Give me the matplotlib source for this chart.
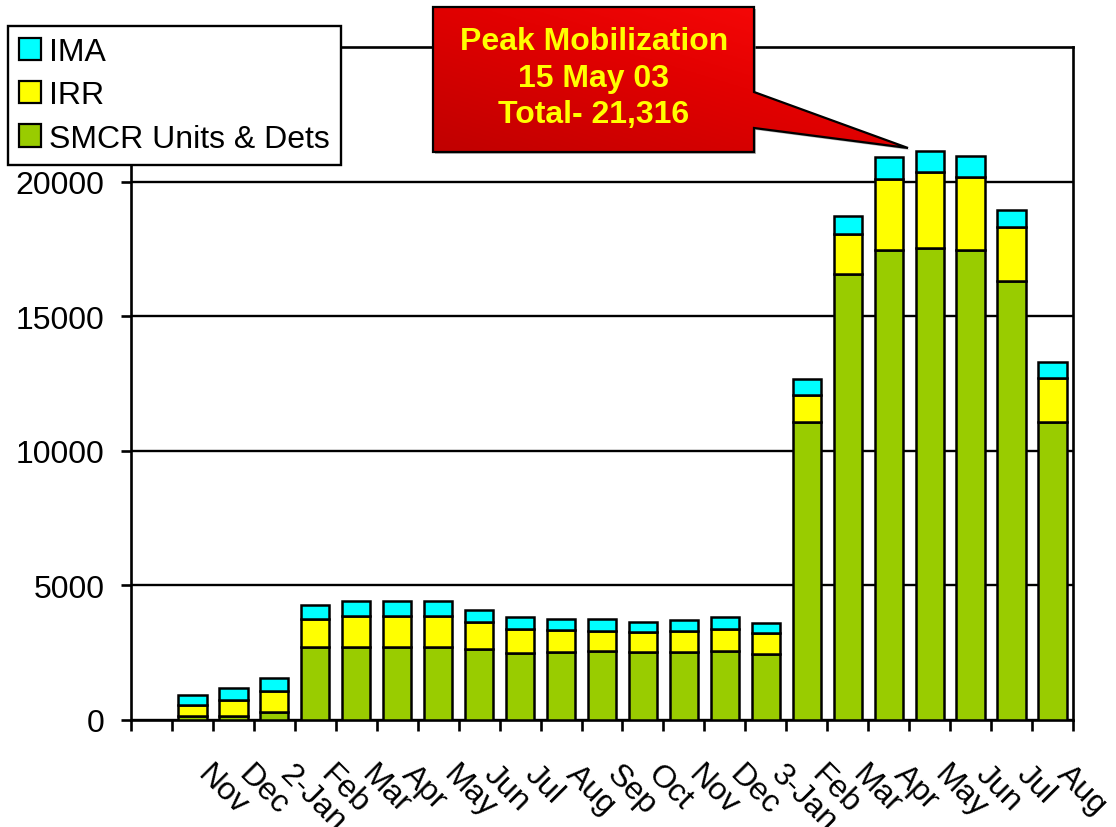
"""
Mobilization by month — stacked bars (SMCR, IRR, IMA) with peak callout.
Output: out.png
"""

import numpy as np
import matplotlib
matplotlib.use('Agg')
import matplotlib.pyplot as plt
from matplotlib.patches import Patch, Polygon
from matplotlib.colors import LinearSegmentedColormap
from matplotlib.transforms import offset_copy

# ── DATA ───────────────────────────────────────────────────────────────────────
months = ['Nov', 'Dec', '2-Jan', 'Feb', 'Mar', 'Apr', 'May', 'Jun', 'Jul', 'Aug',
          'Sep', 'Oct', 'Nov', 'Dec', '3-Jan', 'Feb', 'Mar', 'Apr', 'May', 'Jun',
          'Jul', 'Aug']
smcr = [160, 160, 290, 2730, 2730, 2730, 2730, 2650, 2490, 2510, 2550, 2520,
        2510, 2550, 2450, 11070, 16550, 17450, 17540, 17450, 16300, 11070]
irr  = [400, 590, 780, 1010, 1140, 1140, 1140, 980, 890, 830, 760, 750,
        780, 820, 770, 1000, 1500, 2660, 2800, 2720, 2000, 1650]
ima  = [380, 430, 490, 520, 560, 560, 560, 460, 430, 430, 430, 360,
        410, 440, 390, 580, 690, 790, 790, 790, 660, 590]
y_ticks = [0, 5000, 10000, 15000, 20000]
callout_lines = ['Peak Mobilization', '15 May 03', 'Total- 21,316']

C_SMCR, C_IRR, C_IMA = '#99cc00', '#ffff00', '#00ffff'
FONT = 'Liberation Sans'
FS = 23
W, H = 1116, 828


def main():
    plt.rcParams['font.family'] = [FONT, 'DejaVu Sans']
    fig = plt.figure(figsize=(W / 100, H / 100), dpi=100)
    ax = fig.add_axes([131 / W, 1 - 721 / H, 942 / W, 673 / H])

    # ── BARS ───────────────────────────────────────────────────────────────────
    x = np.arange(1, len(months) + 1)
    smcr_a, irr_a, ima_a = map(np.array, (smcr, irr, ima))
    kw = dict(width=0.69, edgecolor='black', linewidth=1.8, zorder=3)
    ax.bar(x, smcr_a, color=C_SMCR, **kw)
    ax.bar(x, irr_a, bottom=smcr_a, color=C_IRR, **kw)
    ax.bar(x, ima_a, bottom=smcr_a + irr_a, color=C_IMA, **kw)

    ax.set_xlim(-0.5, len(months) + 0.5)
    ax.set_ylim(0, 25000)

    # ── AXES ───────────────────────────────────────────────────────────────────
    for s in ax.spines.values():
        s.set_linewidth(1.9)
        s.set_color('black')
    ax.set_yticks(y_ticks)
    ax.set_yticklabels([str(v) for v in y_ticks])
    ax.tick_params(axis='y', direction='out', length=7, width=1.9,
                   pad=12, labelsize=FS)
    ax.yaxis.grid(True, color='black', linewidth=1.7, zorder=0)
    ax.set_axisbelow(True)

    ax.set_xticks(np.arange(-0.5, len(months) + 1, 1.0))
    ax.set_xticklabels([])
    ax.tick_params(axis='x', direction='out', length=8, width=1.9)

    trans = offset_copy(ax.get_xaxis_transform(), fig=fig, x=20, y=-39, units='dots')
    for xi, lab in zip(x, months):
        ax.text(xi, 0, lab, transform=trans, rotation=-45, rotation_mode='anchor',
                ha='left', va='top', fontsize=FS, clip_on=False)

    # ── LEGEND ─────────────────────────────────────────────────────────────────
    handles = [Patch(facecolor=C_IMA, edgecolor='black', linewidth=1.6, label='IMA'),
               Patch(facecolor=C_IRR, edgecolor='black', linewidth=1.6, label='IRR'),
               Patch(facecolor=C_SMCR, edgecolor='black', linewidth=1.6,
                     label='SMCR Units & Dets')]
    leg = fig.legend(handles=handles, loc='upper left',
                     bbox_to_anchor=(8 / W, 1 - 27 / H), borderaxespad=0,
                     fontsize=FS, handlelength=0.7, handleheight=0.7,
                     handletextpad=0.25, labelspacing=0.42, borderpad=0.34,
                     fancybox=False, framealpha=1, edgecolor='black')
    leg.get_frame().set_linewidth(1.7)

    # ── CALLOUT ────────────────────────────────────────────────────────────────
    ov = fig.add_axes([0, 0, 1, 1], zorder=10)
    ov.set_xlim(0, W)
    ov.set_ylim(H, 0)
    ov.axis('off')
    pts = [(433, 8), (754, 8), (754, 93), (908, 149), (754, 129), (754, 153), (433, 153)]
    shadow = Polygon([(px + 2, py + 2) for px, py in pts], closed=True,
                     facecolor='#888888', edgecolor='none', alpha=0.6)
    ov.add_patch(shadow)
    poly = Polygon(pts, closed=True, facecolor='none', edgecolor='black', linewidth=1.6)
    ov.add_patch(poly)
    gx, gy = np.meshgrid(np.linspace(0, 1, 200), np.linspace(0, 1, 100))
    grad = (gx + (1 - gy)) / 2
    cmap = LinearSegmentedColormap.from_list('red', ['#c00000', '#e00000', '#ff0a0a'])
    img = ov.imshow(grad, extent=(433, 908, 153, 8), cmap=cmap, aspect='auto',
                    origin='upper', zorder=1)
    img.set_clip_path(poly)
    poly.set_zorder(2)
    for yb, line in zip([50, 87, 123], callout_lines):
        ov.text(594, yb, line, ha='center', va='baseline', fontsize=FS,
                fontweight='bold', color='#ffff00', zorder=3)

    fig.savefig('out.png', dpi=100)
    plt.close(fig)


if __name__ == "__main__":
    main()
